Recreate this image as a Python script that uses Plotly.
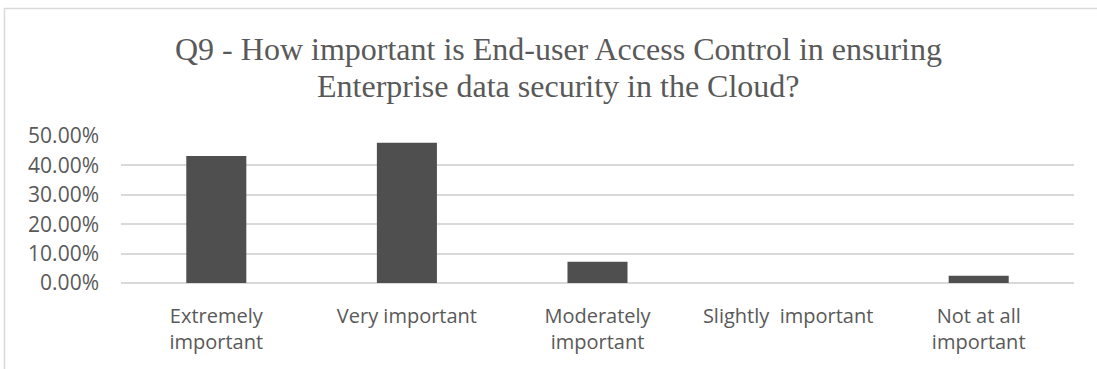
import plotly.graph_objects as go

# Survey responses (share of respondents)
categories = [
    "Extremely<br>important",
    "Very important",
    "Moderately<br>important",
    "Slightly\u00a0 important",
    "Not at all<br>important",
]
shares = [0.432, 0.477, 0.072, 0.0, 0.025]
y_ticks = [0.0, 0.1, 0.2, 0.3, 0.4, 0.5]

title_lines = [
    "Q9 - How important is End-user Access Control in ensuring",
    "Enterprise data security in the Cloud?",
]

W, H = 1097, 369
ml, mr, mt, mb = 121, W - 1074, 136, H - 283

fig = go.Figure(
    go.Bar(
        x=categories,
        y=shares,
        marker=dict(color="#4f4f4f", line=dict(width=0)),
        width=0.315,
    )
)

fig.update_layout(
    width=W,
    height=H,
    margin=dict(l=ml, r=mr, t=mt, b=mb),
    paper_bgcolor="white",
    plot_bgcolor="white",
    showlegend=False,
    font=dict(family="Open Sans", color="#595959"),
)

# Two-line chart title, one annotation per line for tighter line spacing
for line, y_px in zip(title_lines, [49, 86]):
    fig.add_annotation(
        text=line,
        xref="paper", yref="paper",
        x=(558 - ml) / (W - ml - mr),
        y=(H - mb - y_px) / (H - mt - mb),
        xanchor="center", yanchor="middle",
        showarrow=False,
        font=dict(family="Liberation Serif", size=32, color="#595959"),
    )

fig.update_yaxes(
    range=[0, 0.5],
    tickvals=y_ticks,
    tickformat=".2%",
    showgrid=True,
    gridcolor="#d9d9d9",
    gridwidth=1.5,
    zeroline=True,
    zerolinecolor="#d9d9d9",
    zerolinewidth=1.5,
    showline=False,
    ticks="",
    ticklabelstandoff=21,
    tickfont=dict(family="Open Sans", size=21, color="#595959"),
)

fig.update_xaxes(
    showgrid=False,
    showline=False,
    ticks="",
    ticklabelstandoff=19,
    tickfont=dict(family="Open Sans", size=20, color="#595959"),
    tickangle=0,
)

# Light chart-area border
fig.add_shape(
    type="rect",
    xref="paper", yref="paper",
    x0=(4.5 - ml) / (W - ml - mr), x1=(W + 10 - ml) / (W - ml - mr),
    y0=-(H + 10 - (H - mb)) / (H - mt - mb), y1=(H - mb - 8.5) / (H - mt - mb),
    line=dict(color="#d9d9d9", width=1.5),
    fillcolor="rgba(0,0,0,0)",
    layer="below",
)

fig.write_html("out.html")
